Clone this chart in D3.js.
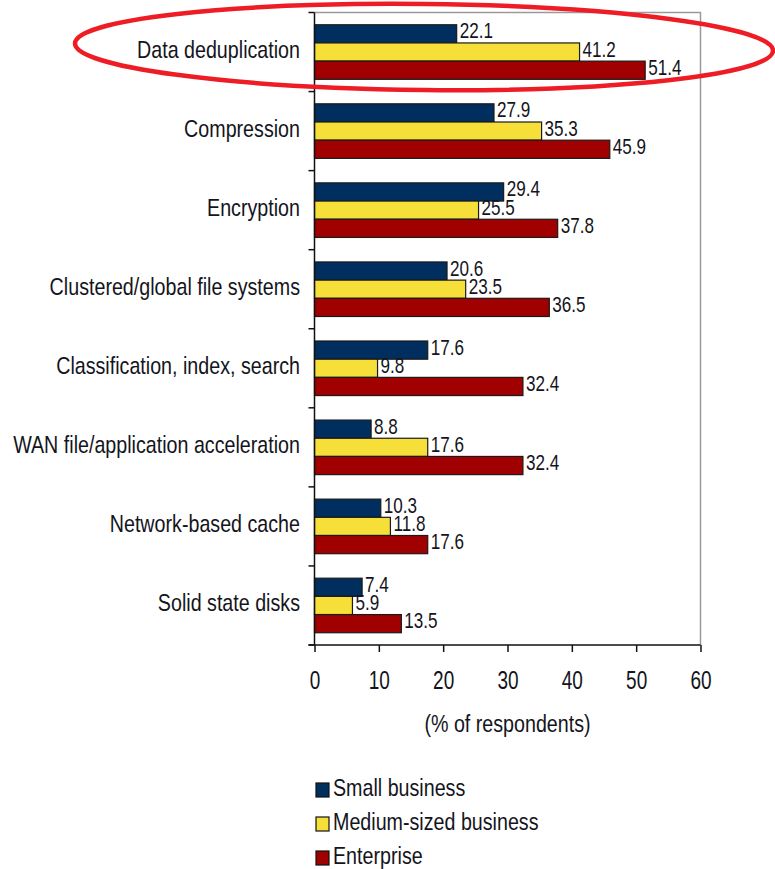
<!DOCTYPE html>
<html>
<head>
<meta charset="utf-8">
<script src="https://cdn.jsdelivr.net/npm/d3@7"></script>
<style>
  html, body { margin: 0; padding: 0; background: #fff; }
  svg { display: block; }
  text { font-family: "Liberation Sans", Arial, sans-serif; fill: #141420; }
</style>
</head>
<body>
<svg id="chart" width="775" height="869"></svg>
<script>
// Storage technologies in use, by company size (% of respondents)
const categories = [
  "Data deduplication",
  "Compression",
  "Encryption",
  "Clustered/global file systems",
  "Classification, index, search",
  "WAN file/application acceleration",
  "Network-based cache",
  "Solid state disks"
];
const seriesNames = ["Small business", "Medium-sized business", "Enterprise"];
const smallBusiness = [22.1, 27.9, 29.4, 20.6, 17.6, 8.8, 10.3, 7.4];
const mediumBusiness = [41.2, 35.3, 25.5, 23.5, 9.8, 17.6, 11.8, 5.9];
const enterprise = [51.4, 45.9, 37.8, 36.5, 32.4, 32.4, 17.6, 13.5];
const seriesColors = ["#002f5f", "#f7df3a", "#a00000"];
const xTicks = [0, 10, 20, 30, 40, 50, 60];
const xTitle = "(% of respondents)";

const seriesValues = [smallBusiness, mediumBusiness, enterprise];

// condensed lettering: regular face squeezed horizontally
const NARROW = 0.82;
const DIGITS = 0.76;

const svg = d3.select("#chart");
const plot = { left: 314.5, right: 700.5, top: 12.5, bottom: 645 };

const x = d3.scaleLinear().domain([0, 60]).range([plot.left, plot.right]);
const y = d3.scaleBand().domain(categories).range([plot.top, plot.bottom])
  .paddingInner(0.31).paddingOuter(0.155);
const ySub = d3.scaleBand().domain(seriesNames).range([0, y.bandwidth()]);

// place a horizontally condensed label at (px, py)
function squeezedText(parent, px, py, str, size, sx, anchor) {
  return parent.append("text")
    .attr("transform", `translate(${px},${py}) scale(${sx},1)`)
    .attr("font-size", size)
    .attr("text-anchor", anchor || "start")
    .text(str);
}

// plot frame (top and right edges)
svg.append("path")
  .attr("d", `M${plot.left},${plot.top}H${plot.right}V${plot.bottom}`)
  .attr("fill", "none").attr("stroke", "#9a9a9a").attr("stroke-width", 1.5);

// bars
const groups = svg.append("g").selectAll("g")
  .data(categories).join("g")
  .attr("transform", d => `translate(0,${y(d)})`);

groups.each(function(cat, i) {
  const g = d3.select(this);
  seriesNames.forEach((s, j) => {
    const v = seriesValues[j][i];
    g.append("rect")
      .attr("x", x(0))
      .attr("y", ySub(s))
      .attr("width", x(v) - x(0))
      .attr("height", ySub.bandwidth())
      .attr("fill", seriesColors[j])
      .attr("stroke", "#1a1a1a").attr("stroke-width", 1.2);
  });
  seriesNames.forEach((s, j) => {
    const v = seriesValues[j][i];
    squeezedText(g, x(v) + 3, ySub(s) + ySub.bandwidth() / 2 + 4.5, v.toFixed(1), 22.5, DIGITS);
  });
});

// category axis
const yAxisG = svg.append("g");
yAxisG.append("line")
  .attr("x1", plot.left).attr("x2", plot.left)
  .attr("y1", plot.top).attr("y2", plot.bottom)
  .attr("stroke", "#111").attr("stroke-width", 1.5);
const boundaries = d3.range(categories.length + 1).map(k => plot.top + k * y.step());
yAxisG.selectAll("line.tick").data(boundaries).join("line")
  .attr("class", "tick")
  .attr("x1", plot.left - 6).attr("x2", plot.left)
  .attr("y1", d => d).attr("y2", d => d)
  .attr("stroke", "#111").attr("stroke-width", 1.5);
categories.forEach(c => {
  squeezedText(yAxisG, plot.left - 14.5, y(c) + y.bandwidth() / 2 + 6, c, 24, NARROW, "end");
});

// value axis
const xAxis = d3.axisBottom(x).tickValues(xTicks).tickSize(7).tickPadding(19);
const xAxisG = svg.append("g")
  .attr("transform", `translate(0,${plot.bottom})`)
  .call(xAxis);
xAxisG.select(".domain").attr("d", `M${plot.left - 6},0H${plot.right}`)
  .attr("stroke", "#111").attr("stroke-width", 1.5);
xAxisG.selectAll(".tick line").attr("stroke", "#111").attr("stroke-width", 1.5);
xAxisG.selectAll(".tick text")
  .attr("font-size", 25)
  .attr("font-family", "\"Liberation Sans\", Arial, sans-serif")
  .attr("fill", "#141420")
  .attr("transform", `scale(0.76,1)`);

squeezedText(svg, (plot.left + plot.right) / 2, 732, xTitle, 24, NARROW, "middle");

// legend
const legend = svg.append("g").attr("transform", "translate(316,796)");
seriesNames.forEach((s, i) => {
  const row = legend.append("g").attr("transform", `translate(0,${i * 34})`);
  row.append("rect")
    .attr("x", 0).attr("y", -13).attr("width", 13).attr("height", 14)
    .attr("fill", seriesColors[i])
    .attr("stroke", "#111").attr("stroke-width", 1.2);
  squeezedText(row, 17, 0, s, 24, NARROW);
});

// highlight ring around the first category
svg.append("ellipse")
  .attr("cx", 424).attr("cy", 47)
  .attr("rx", 349).attr("ry", 43)
  .attr("transform", "rotate(0.6 424 47)")
  .attr("fill", "none")
  .attr("stroke", "#ee1c24")
  .attr("stroke-width", 4.5);
</script>
</body>
</html>
